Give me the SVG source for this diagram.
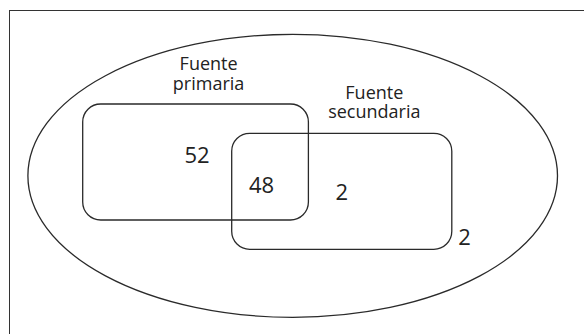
<svg xmlns="http://www.w3.org/2000/svg" width="584" height="334" viewBox="0 0 584 334">
<style>
.shape{fill:none;stroke:#2a2a2a;stroke-width:1.3}
.lbl{font-family:"Open Sans","DejaVu Sans",sans-serif;font-size:18px;fill:#222;text-anchor:middle}
.num{font-family:"Open Sans","DejaVu Sans",sans-serif;font-size:22px;fill:#222;text-anchor:middle}
</style>
<rect x="0" y="0" width="584" height="334" fill="#fff"/>
<rect x="9.5" y="10.5" width="590" height="340" fill="none" stroke="#333" stroke-width="1"/>
<g id="universo">
<ellipse class="shape" cx="292.7" cy="175.8" rx="264.8" ry="141.5"/>
</g>
<g id="fuente-primaria">
<rect class="shape" x="82.7" y="104" width="225.7" height="116" rx="18" ry="18"/>
<text class="lbl" x="208.6" y="70">Fuente</text>
<text class="lbl" x="208.6" y="90">primaria</text>
</g>
<g id="fuente-secundaria">
<rect class="shape" x="231.7" y="133.3" width="220.1" height="116" rx="18" ry="18"/>
<text class="lbl" x="374.3" y="98.7">Fuente</text>
<text class="lbl" x="374.3" y="118.3">secundaria</text>
</g>
<g id="valores">
<text class="num" x="197" y="163">52</text>
<text class="num" x="261.6" y="193">48</text>
<text class="num" x="341.8" y="200">2</text>
<text class="num" x="464.6" y="245">2</text>
</g>
</svg>
